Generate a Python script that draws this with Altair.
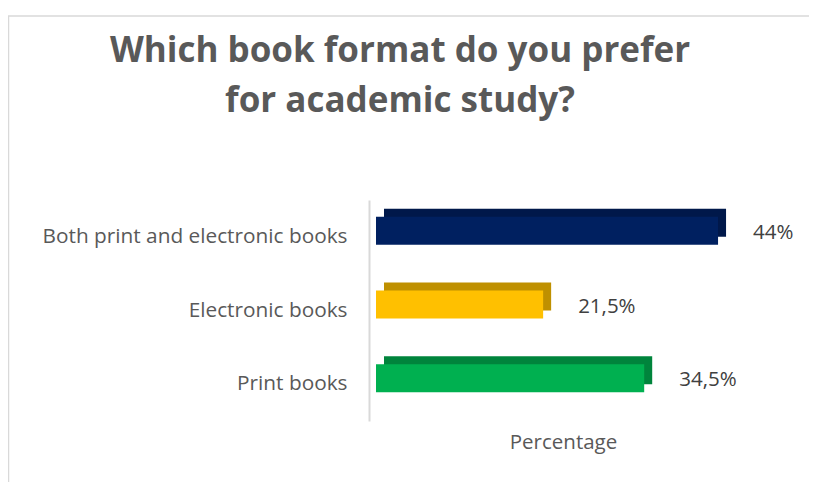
import altair as alt
import pandas as pd

title_lines = ["Which book format do you prefer", "for academic study?"]
categories = ["Both print and electronic books", "Electronic books", "Print books"]
values = [44, 21.5, 34.5]
value_labels = ["44%", "21,5%", "34,5%"]
front_colors = ["#002060", "#FFC000", "#00B050"]
top_colors = ["#00184a", "#bf9000", "#00843c"]

df = pd.DataFrame({
    "category": categories,
    "value": values,
    "label": value_labels,
    "front": front_colors,
    "top": top_colors,
})

W, H = 440, 221
FONT = "Open Sans"

xscale = alt.Scale(domain=[0, 56.6], nice=False, zero=True)
yscale = alt.Scale(domain=categories, paddingInner=0.6, paddingOuter=0.3)

y_enc = alt.Y(
    "category:N",
    scale=yscale,
    sort=categories,
    axis=alt.Axis(
        title=None,
        ticks=False,
        grid=False,
        labelPadding=22,
        labelFont=FONT,
        labelFontSize=20.8,
        labelColor="#595959",
        domainColor="#d9d9d9",
        domainWidth=2,
        labelLimit=400,
    ),
)
x_enc = alt.X(
    "value:Q",
    scale=xscale,
    axis=alt.Axis(
        title="Percentage",
        labels=False,
        ticks=False,
        domain=False,
        grid=False,
        titleX=194,
        titleY=27,
        titleAlign="center",
        titleBaseline="alphabetic",
        titleFont=FONT,
        titleFontSize=20.5,
        titleFontWeight="normal",
        titleColor="#595959",
    ),
)

base = alt.Chart(df)

back = base.mark_bar(size=28, xOffset=15, x2Offset=15, yOffset=-14).encode(
    x=x_enc, y=y_enc, color=alt.Color("top:N", scale=None)
)
front = base.mark_bar(size=28, xOffset=7, x2Offset=7, yOffset=-6).encode(
    x="value:Q", y=alt.Y("category:N", sort=categories), color=alt.Color("front:N", scale=None)
)
text = base.mark_text(
    align="left", baseline="middle", dx=42, dy=-4, fontSize=20.5, font=FONT, color="#404040"
).encode(x="value:Q", y=alt.Y("category:N", sort=categories), text="label:N")

one = alt.Chart(pd.DataFrame({"a": [0]}))
border_left = one.mark_rule(color="#d9d9d9", strokeWidth=1.5).encode(
    x=alt.value(-360.5), y=alt.value(-184), y2=alt.value(282)
)
border_top = one.mark_rule(color="#d9d9d9", strokeWidth=1.5).encode(
    x=alt.value(-361), x2=alt.value(440), y=alt.value(-184)
)
title_style = dict(font=FONT, fontSize=35, fontWeight="bold", color="#595959",
                   align="center", baseline="alphabetic")
title1 = one.mark_text(**title_style).encode(
    x=alt.value(31), y=alt.value(-138), text=alt.value(title_lines[0])
)
title2 = one.mark_text(**title_style).encode(
    x=alt.value(31), y=alt.value(-88), text=alt.value(title_lines[1])
)

chart = alt.layer(border_left, border_top, title1, title2, back, front, text).properties(
    width=W,
    height=H,
    autosize="none",
    padding={"left": 361, "top": 192, "right": 0, "bottom": 61},
    background="white",
).configure_view(stroke=None)

chart.save("out.html", embed_options={"renderer": "svg", "actions": False})
